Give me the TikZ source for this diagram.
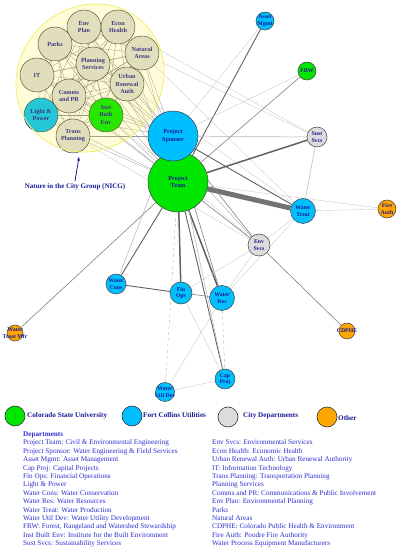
\documentclass[tikz,border=0pt]{standalone}
\usepackage{fontspec}
\setmainfont{Liberation Serif}
\usetikzlibrary{arrows.meta}
\definecolor{csu}{RGB}{0,230,0}
\definecolor{fcu}{RGB}{0,191,255}
\definecolor{city}{RGB}{220,220,220}
\definecolor{oth}{RGB}{255,165,0}
\definecolor{ntxt}{RGB}{25,25,150}
\definecolor{ltxt}{RGB}{45,45,205}
\definecolor{ellb}{RGB}{240,240,110}
\pgfdeclarelayer{bg}
\pgfdeclarelayer{fg}
\pgfsetlayers{bg,main,fg}
\tikzset{
  nd/.style={circle,draw=black!75,line width=0.5pt,inner sep=0pt,align=center,text=ntxt,
    font=\fontsize{6.2}{7.2}\selectfont\bfseries},
  ltx/.style={inner sep=0pt,align=center,text=ntxt,font=\fontsize{5.8}{6.6}\selectfont\bfseries},
  cl/.style={nd,fill=city,minimum size=34pt},
  sm/.style={circle,draw=black!75,line width=0.5pt,inner sep=0pt,minimum size=#1},
  e1/.style={draw=gray!40,line width=0.4pt},
  e2/.style={draw=gray!60,line width=0.5pt},
  e3/.style={draw=black!50,line width=0.6pt},
  e4/.style={draw=black!62,line width=0.9pt},
  e5/.style={draw=black!62,line width=1.5pt},
  e6/.style={draw=black!55,line width=5pt},
  edash/.style={draw=gray!50,line width=0.5pt,dashed},
  ec/.style={draw=black!45,line width=0.3pt},
  lgd/.style={circle,draw=black!80,line width=0.6pt,minimum size=20pt,inner sep=0pt},
  lgt/.style={anchor=west,inner sep=0pt,text=ntxt,font=\fontsize{7.2}{8.4}\selectfont\bfseries},
  lst/.style={anchor=north west,inner sep=0pt,align=left,text=ltxt,font=\fontsize{7.2}{8.4}\selectfont}
}
\begin{document}
\begin{tikzpicture}[x=1pt,y=1pt]
\useasboundingbox (0,0) rectangle (398,550);
% main nodes
\node[nd,minimum size=60pt,fill=csu] (PT) at (178,368) {Project\\Team};
\node[nd,minimum size=50pt,fill=fcu] (PS) at (173,414) {Project\\Sponsor};
\node[sm=20pt,fill=city,label={[ltx]center:Sust\\Svcs}] (Sust) at (317,413) {};
\node[sm=25pt,fill=fcu,label={[ltx]center:Water\\Treat}] (WTreat) at (303,339) {};
\node[sm=22pt,fill=city,label={[ltx]center:Env\\Svcs}] (Env) at (259,305) {};
\node[sm=22pt,fill=fcu,label={[ltx]center:Fin\\Ops}] (Fin) at (181,257) {};
\node[sm=25pt,fill=fcu,label={[ltx]center:Water\\Res}] (WRes) at (222,252) {};
\node[sm=20pt,fill=fcu,label={[ltx]center:Water\\Cons}] (WCons) at (116,266) {};
\node[sm=20pt,fill=fcu,label={[ltx]center:Cap\\Proj}] (Cap) at (225,171) {};
\node[sm=19pt,fill=fcu,label={[ltx]center:Water\\Util Dev}] (WUtil) at (165,158) {};
\node[sm=16pt,fill=oth,label={[ltx]center:Water\\Treat Mfr}] (WTMfr) at (15,217) {};
\node[sm=18pt,fill=fcu,label={[ltx]center:Asset\\Mgmt}] (Asset) at (265,529) {};
\node[sm=18pt,fill=csu,label={[ltx]center:FRW}] (FRW) at (307,479) {};
\node[sm=18pt,fill=oth,label={[ltx]center:Fire\\Auth}] (Fire) at (387,341) {};
\node[sm=16pt,fill=oth,label={[ltx]center:CDPHE}] (CDPHE) at (347,219) {};
% cluster nodes
\node[cl] (EnvPlan) at (84,523) {Env\\Plan};
\node[cl] (Econ) at (118,523) {Econ\\Health};
\node[cl] (Parks) at (55,506) {Parks};
\node[cl] (Natural) at (142,497) {Natural\\Areas};
\node[cl] (Planning) at (93,486) {Planning\\Services};
\node[cl] (IT) at (37,475) {IT};
\node[cl] (Urban) at (127,466) {Urban\\Renewal\\Auth};
\node[cl] (Comms) at (69,454) {Comms\\and PR};
\node[cl,fill=fcu] (Light) at (41,435) {Light \&\\Power};
\node[cl,fill=csu] (Inst) at (106,435) {Inst\\Built\\Env};
\node[cl] (Trans) at (73,414) {Trans\\Planning};
% edges
\begin{pgfonlayer}{bg}
\foreach \a [count=\i] in {EnvPlan,Econ,Parks,Natural,Planning,IT,Urban,Comms,Light,Inst,Trans}{
  \foreach \b [count=\j] in {EnvPlan,Econ,Parks,Natural,Planning,IT,Urban,Comms,Light,Inst,Trans}{
    \ifnum\j>\i \draw[ec] (\a) -- (\b); \fi
  }
  \draw[ec,draw=black!40] (\a) -- (PS);
  \draw[ec,draw=black!40] (\a) -- (PT);
}
\draw[e1] (Natural) -- (Sust);
\draw[e1] (Econ) -- (Sust);
\draw[e1] (Urban) -- (WTreat);
\draw[e2] (Planning) -- (Env);
\draw[e1] (Inst) -- (Env);
\draw[e1] (Natural) -- (WTreat);
\draw[e1] (Trans) -- (Env);
\draw[e6] (PT) -- (WTreat);
\draw[e5] (PT) -- (Sust);
\draw[e3] (PT) -- (FRW);
\draw[e4] (PT) -- (Asset);
\draw[e5] (PT) -- (Fin);
\draw[e5] (PT) -- (WRes);
\draw[e4] (PT) -- (WCons);
\draw[e3] (PT) -- (WTMfr);
\draw[e4] (PT) -- (Cap);
\draw[edash] (PT) -- (WUtil);
\draw[e3] (PT) -- (Env);
\draw[e1] (PT) -- (Fire);
\draw[e1] (PS) -- (Asset);
\draw[e1] (PS) -- (FRW);
\draw[e2] (PS) -- (Sust);
\draw[e4] (PS) -- (WTreat);
\draw[e3] (PS) -- (Env);
\draw[e2] (PS) -- (WCons);
\draw[e3] (PS) -- (WRes);
\draw[e2] (PS) -- (Cap);
\draw[e2] (Sust) -- (WTreat);
\draw[e1] (WTreat) -- (Fire);
\draw[e1] (WTreat) -- (Env);
\draw[e1] (WTreat) -- (WRes);
\draw[e1] (Env) -- (Fin);
\draw[e1] (Env) -- (WRes);
\draw[e3] (Env) -- (CDPHE);
\draw[e4] (Fin) -- (WCons);
\draw[e3] (Fin) -- (WRes);
\draw[e1] (Fin) -- (Cap);
\draw[e1] (WRes) -- (WUtil);
\draw[edash] (WRes) -- (Cap);
\draw[e1] (Cap) -- (WUtil);
\end{pgfonlayer}
% NICG ellipse overlay
\begin{pgfonlayer}{fg}
\draw[fill=yellow,fill opacity=0.15,draw=ellb,line width=0.8pt,rotate around={45:(90,472)}]
  (90,472) ellipse [x radius=77,y radius=71];
\end{pgfonlayer}
\node[inner sep=0pt,text=ntxt,font=\fontsize{7}{8}\selectfont\bfseries] (nicg) at (75,363) {Nature in the City Group (NICG)};
\coordinate (arrtip) at (79,393);
\draw[-{Stealth[length=4pt,width=3pt]},draw=ntxt,line width=0.8pt] ([yshift=2.5pt]nicg.north) -- (arrtip);
% legend
\node[lgd,fill=csu] (lcsu) at (15,134) {};
\node[lgt] (tcsu) at (27,134.5) {Colorado State University};
\node[lgd,fill=fcu] (lfcu) at (132,134) {};
\node[lgt] (tfcu) at (143,134.5) {Fort Collins Utilities};
\node[lgd,fill=city] (lcity) at (228,133) {};
\node[lgt] (tcity) at (243,134.5) {City Departments};
\node[lgd,fill=oth] (loth) at (327,133) {};
\node[lgt] (toth) at (338,132) {Other};
\node[lst] (list1) at (23,118.4) {{\bfseries Departments}\\
Project Team: Civil \& Environmental Engineering\\
Project Sponsor: Water Engineering \& Field Services\\
Asset Mgmt: Asset Management\\
Cap Proj: Capital Projects\\
Fin Ops: Financial Operations\\
Light \& Power\\
Water Cons: Water Conservation\\
Water Res: Water Resources\\
Water Treat: Water Production\\
Water Util Dev: Water Utility Development\\
FRW: Forest, Rangeland and Watershed Stewardship\\
Inst Built Env: Institute for the Built Environment\\
Sust Svcs: Sustainability Services};
\node[lst] (list2) at (212,110.2) {Env Svcs: Environmental Services\\
Econ Health: Economic Health\\
Urban Renewal Auth: Urban Renewal Authority\\
IT: Information Technology\\
Trans Planning: Transportation Planning\\
Planning Services\\
Comms and PR: Communications \& Public Involvement\\
Env Plan: Environmental Planning\\
Parks\\
Natural Areas\\
CDPHE: Colorado Public Health \& Environment\\
Fire Auth: Poudre Fire Authority\\
Water Process Equipment Manufacturers};
\end{tikzpicture}
\end{document}
